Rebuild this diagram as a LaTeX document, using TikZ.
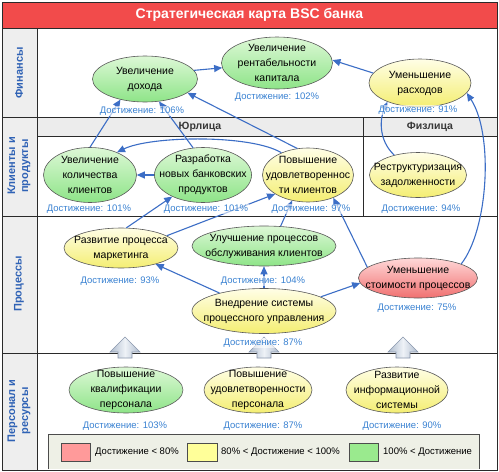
\documentclass[tikz,border=0pt]{standalone}
\usepackage{fontspec}
\setmainfont{Liberation Sans}
\usetikzlibrary{shapes.geometric,arrows.meta}
\definecolor{titlered}{HTML}{F24B4B}
\definecolor{sidegray}{HTML}{EEEEEE}
\definecolor{bandgray}{HTML}{ECECEC}
\definecolor{laneblue}{HTML}{2F62B5}
\definecolor{achblue}{HTML}{3A82D2}
\definecolor{connblue}{HTML}{3C6EC6}
\definecolor{framec}{HTML}{2A2A2A}
\definecolor{gtop}{HTML}{DDF8D6}
\definecolor{gbot}{HTML}{8EE488}
\definecolor{ytop}{HTML}{FFFEE6}
\definecolor{ybot}{HTML}{F4EE72}
\definecolor{rtop}{HTML}{FFD8D8}
\definecolor{rbot}{HTML}{F07070}
\definecolor{legbg}{HTML}{EEF0E6}
\definecolor{swred}{HTML}{FF9A9A}
\definecolor{swyel}{HTML}{FFFF99}
\definecolor{swgrn}{HTML}{9AEA8E}
\definecolor{barrowmid}{HTML}{EEF2F7}
\definecolor{barrowside}{HTML}{AEBBCD}
\definecolor{barrowline}{HTML}{8896AC}
\begin{document}
\begin{tikzpicture}[x=1pt,y=-1pt,
  frame/.style={draw=framec,line width=0.9pt},
  goal/.style={ellipse,draw=black!65,line width=0.6pt,inner sep=0pt},
  gfill/.style={top color=gtop,bottom color=gbot},
  yfill/.style={top color=ytop,bottom color=ybot},
  rfill/.style={top color=rtop,bottom color=rbot},
  gtext/.style={align=center,font=\fontsize{10.5}{15}\selectfont,inner sep=0pt},
  ach/.style={font=\fontsize{9.5}{11}\selectfont,text=achblue,fill=white,fill opacity=0.6,text opacity=1,inner sep=1pt},
  conn/.style={draw=connblue,line width=1.1pt,-{Triangle[length=8pt,width=7pt]}},
  lanelabel/.style={rotate=90,align=center,text=laneblue,font=\fontsize{11}{13}\selectfont\bfseries,inner sep=0pt},
  subhead/.style={text=black!78,font=\fontsize{10.5}{12}\selectfont\bfseries,inner sep=0pt},
  titletext/.style={text=white,font=\fontsize{14}{16}\selectfont\bfseries,inner sep=0pt},
  blockarrow/.style={draw=barrowline,line width=0.6pt,left color=barrowside,right color=barrowside,middle color=barrowmid},
  swatch/.style={draw=black!70,line width=0.6pt},
  legtext/.style={anchor=west,font=\fontsize{9.5}{11}\selectfont,inner sep=0pt}
]
\useasboundingbox (0,0) rectangle (499,472);
\fill[white] (0,0) rectangle (499,472);
% background areas
\fill[titlered] (2,2) rectangle (497,28);
\fill[sidegray] (2,28) rectangle (37,470);
\fill[bandgray] (37,117) rectangle (497,136);
% lines
\draw[frame] (2,2) rectangle (497,470);
\draw[frame] (2,28) -- (497,28);
\draw[frame] (37,28) -- (37,470);
\draw[frame] (2,117) -- (497,117);
\draw[frame] (37,136) -- (497,136);
\draw[frame] (363,117) -- (363,216);
\draw[frame] (2,216) -- (497,216);
\draw[frame] (2,353) -- (497,353);
% title and lane labels
\node[titletext] (title) at (249.5,15) {Стратегическая карта BSC банка};
\node[lanelabel] (lfin) at (19,73) {Финансы};
\node[lanelabel] (lcli) at (19,166) {Клиенты и\\продукты};
\node[lanelabel] (lpro) at (19,284) {Процессы};
\node[lanelabel] (lper) at (19,411) {Персонал и\\ресурсы};
\node[subhead] (yur) at (200,127) {Юрлица};
\node[subhead] (fiz) at (430,127) {Физлица};
% legend
\fill[legbg] (48,434) rectangle (479,469);
\draw[draw=black!70,line width=0.7pt] (48,469) -- (48,434) -- (479,434) -- (479,469);
\draw[swatch,fill=swred] (61,443) rectangle (90,461);
\draw[swatch,fill=swyel] (187,443) rectangle (217,461);
\draw[swatch,fill=swgrn] (349,443) rectangle (378,461);
\node[legtext] (lg1) at (95,452) {Достижение < 80\%};
\node[legtext] (lg2) at (221,452) {80\% < Достижение < 100\%};
\node[legtext] (lg3) at (383,452) {100\% < Достижение};
% goals
\node[goal,gfill,minimum width=105pt,minimum height=46pt] (doh) at (145,79) {};
\node[gtext] (doh-t) at (doh) {Увеличение\\дохода};
\node[goal,gfill,minimum width=111pt,minimum height=52pt] (ren) at (277,63) {};
\node[gtext] (ren-t) at (ren) {Увеличение\\рентабельности\\капитала};
\node[goal,yfill,minimum width=102pt,minimum height=48pt] (ras) at (420,83) {};
\node[gtext] (ras-t) at (ras) {Уменьшение\\расходов};
\node[goal,gfill,minimum width=93pt,minimum height=55pt] (kol) at (90,175) {};
\node[gtext] (kol-t) at (kol) {Увеличение\\количества\\клиентов};
\node[goal,gfill,minimum width=97pt,minimum height=55pt] (raz) at (203,175) {};
\node[gtext] (raz-t) at (raz) {Разработка\\новых банковских\\продуктов};
\node[goal,yfill,minimum width=91pt,minimum height=54pt] (udk) at (308,175) {};
\node[gtext] (udk-t) at (udk) {Повышение\\удовлетвореннос\\ти клиентов};
\node[goal,yfill,minimum width=97pt,minimum height=45pt] (res) at (418,175) {};
\node[gtext] (res-t) at (res) {Реструктуризация\\задолженности};
\node[goal,yfill,minimum width=114pt,minimum height=40pt] (mar) at (121,248) {};
\node[gtext] (mar-t) at (mar) {Развитие процесса\\маркетинга};
\node[goal,gfill,minimum width=144pt,minimum height=40pt] (obs) at (264,246) {};
\node[gtext] (obs-t) at (obs) {Улучшение процессов\\обслуживания клиентов};
\node[goal,yfill,minimum width=144pt,minimum height=45pt] (vne) at (264,311) {};
\node[gtext] (vne-t) at (vne) {Внедрение системы\\процессного управления};
\node[goal,rfill,minimum width=119pt,minimum height=40pt] (sto) at (418,278) {};
\node[gtext] (sto-t) at (sto) {Уменьшение\\стоимости процессов};
\node[goal,gfill,minimum width=114pt,minimum height=46pt] (kva) at (126,390) {};
\node[gtext] (kva-t) at (kva) {Повышение\\квалификации\\персонала};
\node[goal,yfill,minimum width=108pt,minimum height=46pt] (udp) at (258,390) {};
\node[gtext] (udp-t) at (udp) {Повышение\\удовлетворенности\\персонала};
\node[goal,yfill,minimum width=102pt,minimum height=46pt] (inf) at (397,390) {};
\node[gtext] (inf-t) at (inf) {Развитие\\информационной\\системы};
% block arrows
\foreach \bx in {125,264,403}{
  \draw[blockarrow] (\bx,337) -- (\bx+15,352) -- (\bx+7,352) -- (\bx+7,358) -- (\bx-7,358) -- (\bx-7,352) -- (\bx-15,352) -- cycle;
}
% connectors
\draw[conn] (doh.10) -- (ren.185);
\draw[conn] (ras.168) -- (ren.3);
\draw[conn] (udk.112) -- (doh.-18);
\draw[conn] (kol.90) -- (doh.-140);
\draw[conn] (raz.110) -- (doh.-58);
\draw[conn] (udk.140) .. controls (250,134) and (150,136) .. (kol.40);
\draw[conn] (raz.180) -- (kol.0);
\draw[conn] (mar.75) -- (raz.-145);
\draw[conn] (mar.15) -- (udk.-150);
\draw[conn] (obs.50) -- (udk.-122);
\draw[conn] (sto.168) -- (udk.-42);
\draw[conn] (sto.18) .. controls (488,230) and (494,135) .. (ras.-12);
\draw[conn] (res.140) .. controls (378,140) and (380,118) .. (ras.-150);
\draw[conn] (vne.158) -- (mar.-25);
\draw[conn] (vne.90) -- (obs.-90);
\draw[conn] (vne.14) -- (sto.185);
% achievement labels
\node[ach] (doh-a) at (142,111) {Достижение: 106\%};
\node[ach] (ren-a) at (277,97) {Достижение: 102\%};
\node[ach] (ras-a) at (418,110) {Достижение: 91\%};
\node[ach] (kol-a) at (89,209) {Достижение: 101\%};
\node[ach] (raz-a) at (206,209) {Достижение: 101\%};
\node[ach] (udk-a) at (311,209) {Достижение: 97\%};
\node[ach] (res-a) at (421,209) {Достижение: 94\%};
\node[ach] (mar-a) at (120,281) {Достижение: 93\%};
\node[ach] (obs-a) at (263,281) {Достижение: 104\%};
\node[ach] (vne-a) at (263,343) {Достижение: 87\%};
\node[ach] (sto-a) at (417,308) {Достижение: 75\%};
\node[ach] (kva-a) at (125,426) {Достижение: 103\%};
\node[ach] (udp-a) at (263,426) {Достижение: 87\%};
\node[ach] (inf-a) at (402,426) {Достижение: 90\%};
\end{tikzpicture}
\end{document}
